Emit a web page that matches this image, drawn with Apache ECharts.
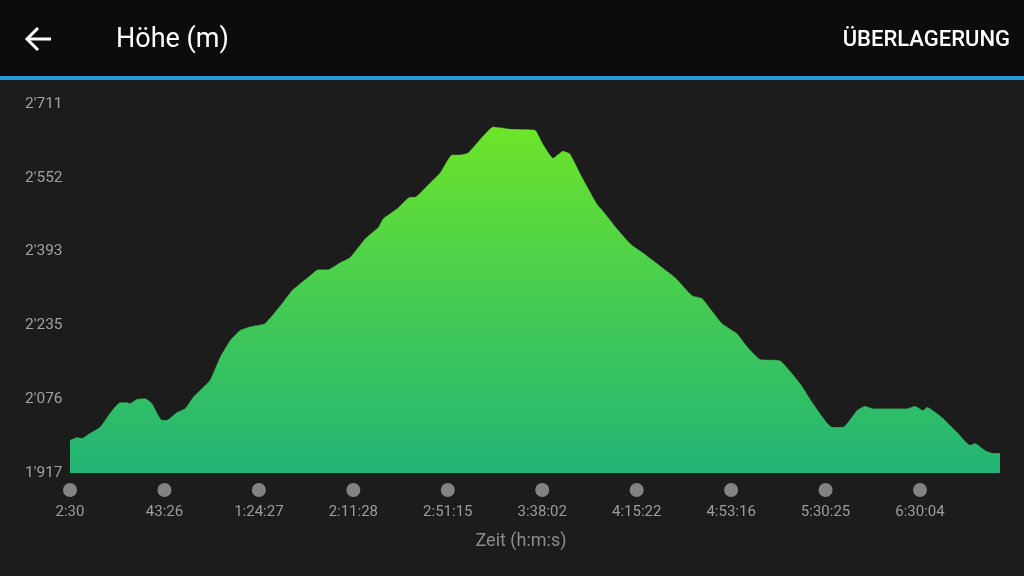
<!DOCTYPE html>
<html>
<head>
<meta charset="utf-8">
<script src="https://cdn.jsdelivr.net/npm/echarts@6/dist/echarts.min.js"></script>
<style>
html,body{margin:0;padding:0;background:#1c1c1c;}
#c{width:1024px;height:576px;}
</style>
</head>
<body>
<div id="c"></div>
<script>
// Tick labels on the time axis (one per gray dot)
const timeLabels = ['2:30','43:26','1:24:27','2:11:28','2:51:15','3:38:02','4:15:22','4:53:16','5:30:25','6:30:04'];
// Position along the track, in units of the label spacing
const position = [0,0.074,0.127,0.212,0.318,0.424,0.529,0.604,0.635,0.709,0.794,0.868,0.974,1.027,1.133,1.218,1.302,1.377,1.482,1.588,1.694,1.800,1.906,2.065,2.245,2.351,2.541,2.626,2.732,2.859,2.965,3.124,3.261,3.314,3.463,3.600,3.653,3.780,3.918,4.045,4.130,4.214,4.373,4.479,4.606,4.691,4.924,5.008,5.114,5.220,5.294,5.432,5.580,5.644,5.792,5.930,6.067,6.216,6.406,6.586,6.692,6.904,7.063,7.179,7.306,7.518,7.730,7.867,8.069,8.185,8.333,8.418,8.503,8.863,8.947,9.032,9.075,9.244,9.392,9.530,9.583,9.689,9.773,9.847];
// Elevation in metres
const elevation = [1988,1994,1992,2003,2016,2046,2069,2069,2067,2076,2078,2067,2031,2031,2048,2056,2080,2095,2117,2166,2202,2224,2232,2239,2282,2310,2342,2355,2355,2370,2381,2421,2445,2464,2486,2511,2511,2535,2563,2602,2602,2606,2642,2662,2659,2657,2655,2625,2595,2610,2604,2550,2496,2481,2443,2411,2391,2368,2338,2299,2293,2239,2217,2187,2162,2159,2110,2067,2016,2016,2052,2061,2056,2056,2061,2052,2059,2035,2005,1977,1981,1966,1960,1960];
// Y axis range / tick labels
const yMin = 1917, yMax = 2711, yStep = 158.8;
const xMax = 9.847;

const seriesData = position.map((p, i) => [p, elevation[i]]);
const dotData = timeLabels.map((t, i) => [i, 0]);

function fmtThousands(v) {
  const n = Math.round(v);
  return String(n).replace(/\B(?=(\d{3})+(?!\d))/g, "'");
}

const chart = echarts.init(document.getElementById('c'), null, {renderer: 'canvas'});
chart.setOption({
  backgroundColor: '#1c1c1c',
  animation: false,
  textStyle: {fontFamily: 'Roboto'},
  grid: [
    {left: 70, right: 24, top: 104, bottom: 103},
    {left: 70, right: 24, top: 480, height: 20}
  ],
  xAxis: [
    {
      type: 'value', gridIndex: 0, min: 0, max: xMax, interval: 1,
      axisLine: {show: false}, axisTick: {show: false}, splitLine: {show: false},
      axisLabel: {
        color: '#9c9c9c', fontSize: 15, fontFamily: 'Roboto', margin: 32,
        showMaxLabel: false,
        formatter: v => (Number.isInteger(v) && timeLabels[v] !== undefined) ? timeLabels[v] : ''
      },
      name: 'Zeit (h:m:s)', nameLocation: 'middle', nameGap: 59,
      nameTextStyle: {color: '#8c8c8c', fontSize: 18, fontFamily: 'Roboto', padding: [0, 28, 0, 0]}
    },
    {
      type: 'value', gridIndex: 1, min: 0, max: xMax, show: false
    }
  ],
  yAxis: [
    {
      type: 'value', gridIndex: 0, min: yMin, max: yMax, interval: yStep,
      axisLine: {show: false}, axisTick: {show: false}, splitLine: {show: false},
      axisLabel: {
        color: '#a0a0a0', fontSize: 15.5, fontFamily: 'Roboto', align: 'left', margin: 45,
        padding: [4, 0, 0, 0],
        formatter: v => fmtThousands(v)
      }
    },
    {type: 'value', gridIndex: 1, min: -1, max: 1, show: false}
  ],
  series: [
    {
      type: 'line', xAxisIndex: 0, yAxisIndex: 0, data: seriesData,
      showSymbol: false, smooth: 0.15,
      lineStyle: {width: 1, color: '#1f3a1a', opacity: 0.35},
      areaStyle: {
        opacity: 1,
        color: new echarts.graphic.LinearGradient(0, 0, 0, 1, [
          {offset: 0, color: '#6de529'},
          {offset: 0.5, color: '#45cc52'},
          {offset: 1, color: '#22b476'}
        ])
      }
    },
    {
      type: 'scatter', xAxisIndex: 1, yAxisIndex: 1, data: dotData,
      symbol: 'circle', symbolSize: 14, clip: false,
      itemStyle: {color: '#9e9e9e'}, silent: true
    }
  ],
  graphic: [
    {type: 'rect', left: 0, top: 0, shape: {width: 1024, height: 77}, style: {fill: '#0c0c0c'}, z: -1},
    {type: 'rect', left: 0, top: 76, shape: {width: 1024, height: 4}, style: {fill: '#229bd6'}},
    {type: 'polyline', shape: {points: [[27, 39], [51, 39]]}, style: {stroke: '#ffffff', lineWidth: 3, fill: null}},
    {type: 'polyline', shape: {points: [[38, 28], [27, 39], [38, 50]]}, style: {stroke: '#ffffff', lineWidth: 3, fill: null, lineJoin: 'miter'}},
    {type: 'text', left: 116, top: 27, style: {text: 'Höhe (m)', fill: '#ffffff', font: '27px Roboto'}},
    {type: 'text', right: 14, top: 29, style: {text: 'ÜBERLAGERUNG', fill: '#ffffff', font: '500 22px Roboto'}}
  ]
});
</script>
</body>
</html>
